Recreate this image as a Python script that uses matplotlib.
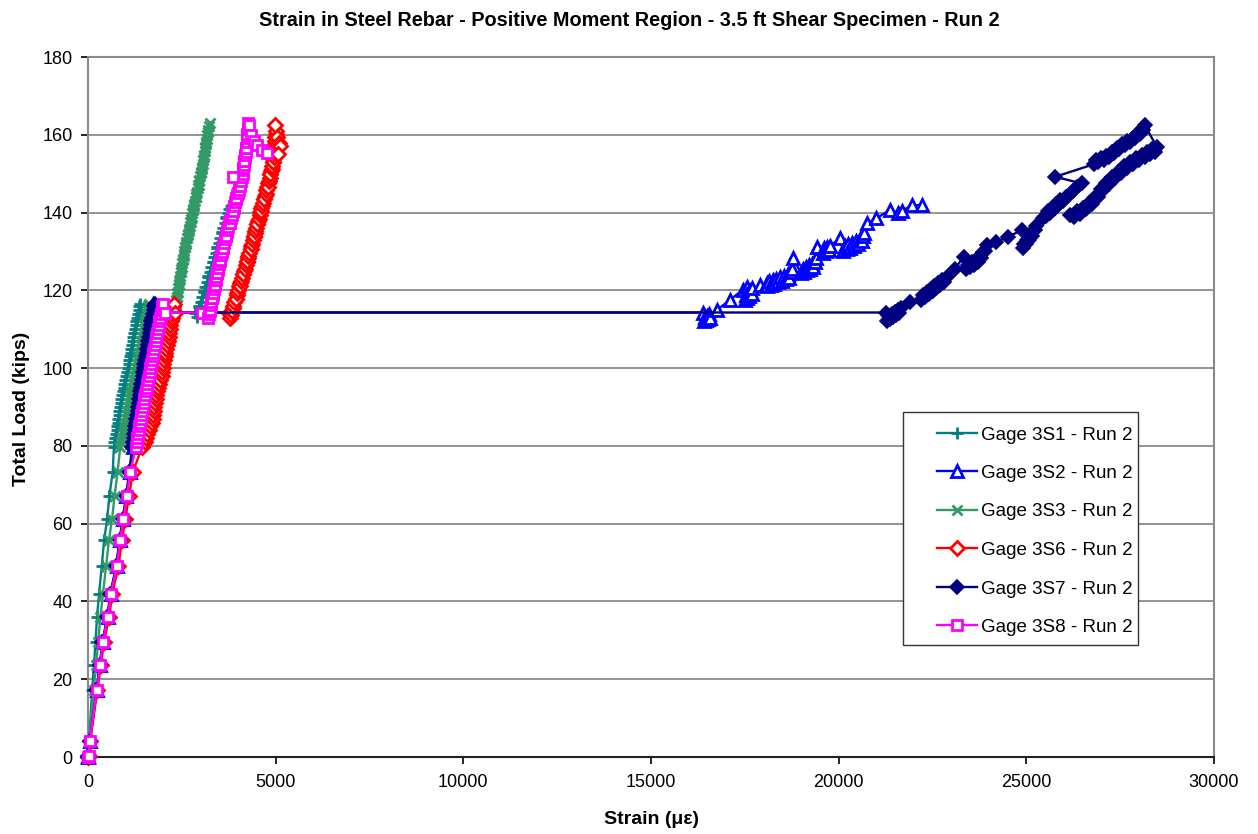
import matplotlib
matplotlib.use("Agg")
import matplotlib.pyplot as plt
from matplotlib.patches import Rectangle

plt.rcParams['font.family'] = ['Liberation Sans', 'DejaVu Sans']

TITLE = "Strain in Steel Rebar - Positive Moment Region - 3.5 ft Shear Specimen - Run 2"
X_LABEL = "Strain (\u03bc\u03b5)"
Y_LABEL = "Total Load (kips)"
X_TICKS = [0, 5000, 10000, 15000, 20000, 25000, 30000]
Y_TICKS = [0, 20, 40, 60, 80, 100, 120, 140, 160, 180]

# first loading up to first yield, common load record (kips)
LOAD_P1 = [0, 0.3, 4.2, 17.2, 23.7, 29.6, 36.0, 42.0, 49.0, 55.8, 61.2, 67.2, 73.4, 79.8,
           81, 82, 83, 84, 85, 86, 87, 88, 89, 90, 91, 92, 93, 94, 95, 96, 97, 98, 99, 100,
           101, 102, 103, 104, 105, 106, 107, 108, 109, 110, 111, 112, 113, 114, 115, 116,
           116.5, 114.3]

# strains during first loading (microstrain)
S1_P1 = [0, 5, 30, 110, 160, 200, 240, 295, 365, 430, 510, 570, 660, 690,
         705, 720, 740, 760, 775, 790, 805, 820, 835, 850, 870, 890, 910, 930, 950, 970, 990,
         1010, 1035, 1060, 1080, 1100, 1120, 1140, 1155, 1170, 1190, 1210, 1230, 1250, 1270,
         1290, 1310, 1330, 1350, 1370, 1385, 1420]
S2_P1 = [0, 10, 50, 230, 320, 390, 520, 600, 760, 845, 935, 1025, 1110, 1200,
         1205, 1220, 1235, 1250, 1265, 1280, 1295, 1310, 1325, 1340, 1355, 1370, 1385, 1400,
         1415, 1430, 1445, 1460, 1475, 1490, 1505, 1520, 1535, 1550, 1565, 1580, 1595, 1610,
         1625, 1640, 1655, 1670, 1685, 1700, 1715, 1730, 1745, 1790]
S3_P1 = [0, 5, 35, 150, 220, 270, 330, 400, 480, 560, 640, 710, 790, 860,
         890, 910, 930, 950, 970, 990, 1010, 1030, 1050, 1070, 1090, 1110, 1130, 1150, 1170,
         1190, 1210, 1230, 1250, 1275, 1300, 1320, 1340, 1360, 1380, 1400, 1420, 1440, 1460,
         1480, 1500, 1520, 1540, 1560, 1580, 1600, 1615, 1660]
S6_P1 = [0, 20, 60, 250, 345, 425, 565, 645, 810, 905, 995, 1095, 1195, 1450,
         1530, 1545, 1570, 1620, 1660, 1700, 1720, 1740, 1755, 1770, 1785, 1800, 1815, 1830,
         1855, 1880, 1920, 1960, 1975, 1990, 2005, 2020, 2040, 2060, 2080, 2100, 2125, 2150,
         2165, 2180, 2195, 2210, 2225, 2240, 2255, 2270, 2280, 2320]
S7_P1 = [0, 10, 50, 225, 315, 385, 515, 595, 750, 840, 925, 1015, 1100, 1180,
         1200, 1215, 1230, 1245, 1260, 1275, 1290, 1305, 1320, 1335, 1350, 1365, 1380, 1395,
         1410, 1425, 1440, 1455, 1470, 1485, 1500, 1520, 1540, 1560, 1575, 1590, 1605, 1620,
         1640, 1660, 1675, 1690, 1710, 1730, 1750, 1770, 1790, 1830]
S8_P1 = [0, 15, 50, 235, 325, 395, 530, 610, 770, 855, 945, 1035, 1125, 1280,
         1300, 1315, 1330, 1350, 1365, 1380, 1400, 1420, 1440, 1460, 1480, 1500, 1520, 1540,
         1560, 1580, 1600, 1620, 1640, 1660, 1680, 1700, 1720, 1740, 1760, 1780, 1800, 1820,
         1840, 1860, 1880, 1900, 1920, 1940, 1960, 1980, 2000, 2050]

# hold at 114.3 kips and reloading: (strain, load) readings
S1_P2 = [(2850, 114.3), (2900, 113.2), (2930, 114.5), (2965, 115.8), (3000, 117.1), (2970, 116.0),
         (3040, 118.3), (3080, 119.6), (3120, 120.9), (3090, 119.8), (3160, 122.1), (3200, 123.4),
         (3240, 124.7), (3210, 123.6), (3280, 125.9), (3320, 127.2), (3360, 128.5), (3330, 127.4),
         (3400, 129.7), (3440, 131.0), (3480, 132.3), (3450, 131.2), (3520, 133.5), (3560, 134.8),
         (3600, 136.1), (3570, 135.0), (3640, 137.3), (3680, 138.6), (3720, 139.9), (3690, 138.8),
         (3760, 140.9), (3800, 141.6), (3830, 142.0)]
S2_P2 = [(16380, 114.3),
         (16400, 112.0), (16430, 113.2), (16460, 112.3), (16490, 113.5), (16520, 112.6),
         (16550, 113.8), (16580, 113.0),
         (16750, 114.9), (17100, 117.5), (17450, 120.2), (17550, 120.9),
         (17500, 117.6), (17530, 118.9), (17560, 118.1), (17590, 119.4), (17620, 118.6),
         (17650, 119.9), (17680, 119.1), (17700, 120.6),
         (17900, 121.3), (18080, 121.8),
         (18090, 121.0), (18140, 122.3), (18190, 121.3), (18240, 122.6), (18290, 121.7),
         (18340, 123.0), (18390, 122.1), (18440, 123.4), (18490, 122.5), (18540, 123.8),
         (18590, 122.9), (18640, 124.2), (18690, 123.3), (18740, 124.6), (18760, 125.5),
         (18790, 128.2),
         (19000, 124.4), (19040, 125.6), (19080, 124.8), (19120, 126.0), (19160, 125.2),
         (19200, 126.4), (19240, 125.6), (19280, 126.9), (19320, 126.1), (19360, 127.4),
         (19390, 128.2),
         (19410, 131.2),
         (19580, 129.6), (19620, 130.8), (19660, 130.0), (19700, 131.2), (19740, 130.4),
         (19780, 131.5),
         (20040, 133.4),
         (20110, 130.2), (20160, 131.4), (20210, 130.6), (20260, 131.8), (20310, 131.0),
         (20360, 132.3), (20410, 131.5), (20460, 132.8), (20510, 132.0), (20560, 133.3),
         (20610, 132.6), (20650, 134.0), (20680, 134.8),
         (20750, 137.2), (21000, 138.5), (21370, 140.7), (21590, 139.8), (21700, 140.5),
         (21950, 141.9), (22210, 141.9)]
S3_P2 = [(2250, 114.3),
         (2280, 113.3), (2295, 114.2), (2310, 115.1), (2325, 116.0), (2312, 115.2),
         (2335, 116.5), (2350, 117.4), (2365, 118.3), (2380, 119.2), (2367, 118.4),
         (2390, 119.7), (2405, 120.6), (2420, 121.5), (2435, 122.4), (2422, 121.6),
         (2445, 122.9), (2460, 123.8), (2475, 124.7), (2490, 125.6), (2477, 124.8),
         (2500, 126.1), (2515, 127.0), (2530, 127.9), (2545, 128.8), (2532, 128.0),
         (2555, 129.3), (2570, 130.2), (2590, 131.1), (2610, 132.0), (2595, 131.2),
         (2620, 132.5), (2640, 133.4), (2660, 134.3), (2680, 135.2), (2665, 134.4),
         (2690, 135.7), (2710, 136.6), (2730, 137.5), (2750, 138.4), (2735, 137.6),
         (2760, 138.9), (2780, 139.8), (2800, 140.7), (2820, 141.6), (2805, 140.8),
         (2830, 142.1), (2850, 143.0), (2870, 143.9), (2890, 144.8), (2875, 144.0),
         (2900, 145.3), (2920, 146.2), (2940, 147.1), (2960, 148.0), (2945, 147.2),
         (2970, 148.5), (2990, 149.4), (3010, 150.3), (3030, 151.2), (3015, 150.4),
         (3040, 151.7), (3055, 152.6), (3070, 153.5), (3085, 154.4), (3072, 153.6),
         (3095, 154.9), (3110, 155.8), (3125, 156.7), (3140, 157.6), (3127, 156.8),
         (3150, 158.1), (3165, 159.0), (3180, 159.9), (3195, 160.8), (3182, 160.0),
         (3205, 161.3), (3220, 162.2), (3250, 163.0)]
S6_P2 = [(3750, 114.3),
         (3780, 112.8), (3810, 113.7), (3835, 114.6), (3860, 115.5), (3840, 114.7),
         (3875, 116.0), (3900, 116.9), (3930, 117.8), (3960, 118.7), (3940, 117.9),
         (3975, 119.2), (4000, 120.1), (4030, 121.0), (4060, 121.9), (4040, 121.1),
         (4075, 122.4), (4100, 123.3), (4130, 124.2), (4160, 125.1), (4140, 124.3),
         (4175, 125.6), (4200, 126.5), (4230, 127.4), (4260, 128.3), (4240, 127.5),
         (4275, 128.8), (4300, 129.7), (4330, 130.6), (4355, 131.5), (4335, 130.7),
         (4370, 132.0), (4395, 132.9), (4420, 133.8), (4445, 134.7), (4425, 133.9),
         (4455, 135.2), (4480, 136.1), (4505, 137.0), (4530, 137.9), (4510, 137.1),
         (4545, 138.4), (4570, 139.3), (4595, 140.2), (4620, 141.1), (4600, 140.3),
         (4635, 141.6), (4660, 142.5), (4690, 143.4), (4715, 144.3), (4695, 143.5),
         (4730, 144.8), (4755, 145.7), (4780, 146.6), (4805, 147.5), (4785, 146.7),
         (4815, 148.0), (4840, 148.9), (4860, 149.8), (4880, 150.7), (4860, 149.9),
         (4890, 151.2), (4905, 152.1), (4920, 153.0), (4935, 153.9), (4920, 153.1),
         (4945, 154.4), (4955, 155.3), (4965, 156.2), (4975, 157.1), (4960, 156.3),
         (4985, 157.6), (4995, 158.5), (5000, 159.4), (5010, 160.3), (4995, 159.5),
         (5005, 161.0), (4980, 162.5), (5040, 159.5), (5090, 157.8), (5120, 157.0), (5060, 155.0)]
S7_P2 = [(21250, 114.3),
         (21300, 112.2), (21340, 113.4), (21380, 112.7), (21420, 113.9), (21460, 113.2),
         (21500, 114.4), (21540, 113.7), (21580, 114.9), (21620, 114.3), (21660, 115.5),
         (21900, 117.0),
         (22200, 117.6), (22250, 118.9), (22300, 118.3), (22350, 119.6), (22400, 119.0),
         (22450, 120.3), (22500, 119.8), (22550, 121.1), (22600, 120.6), (22650, 121.9),
         (22700, 121.4), (22750, 122.6), (22800, 122.2), (22880, 123.5),
         (23100, 125.5), (23330, 128.7),
         (23400, 125.4), (23450, 126.6), (23500, 126.0), (23550, 127.2), (23600, 126.6),
         (23650, 127.8), (23700, 127.3), (23750, 128.6), (23800, 128.4), (23850, 129.8),
         (23900, 130.0), (23950, 131.7),
         (24200, 132.5), (24520, 133.8), (24880, 135.5),
         (24910, 130.8), (24950, 132.0), (24990, 131.8), (25030, 133.0), (25070, 132.9),
         (25110, 134.1), (25150, 134.0), (25190, 135.3), (25230, 135.4), (25260, 136.6),
         (25450, 138.5), (25530, 139.0), (25580, 140.3), (25630, 140.0), (25680, 141.3),
         (25730, 141.0), (25780, 142.3), (25840, 142.0), (25900, 143.2), (25980, 142.9),
         (26070, 143.9),
         (26150, 144.6), (26250, 145.6), (26360, 146.6), (26470, 147.5),
         (25770, 149.2),
         (26790, 152.4), (26850, 153.4), (26920, 152.9), (26990, 154.0), (27060, 153.5),
         (27130, 154.6), (27200, 154.3), (27270, 155.5), (27340, 155.3), (27410, 156.6),
         (27480, 156.4), (27550, 157.6), (27620, 157.4), (27690, 158.5), (27760, 158.2),
         (27830, 159.3), (27900, 159.1), (27960, 160.2), (28020, 160.3), (28080, 161.5),
         (28120, 161.3), (28150, 162.5),
         (28480, 156.9), (28420, 155.6), (28360, 156.4), (28290, 155.0), (28220, 155.7),
         (28150, 154.2), (28080, 154.9), (28000, 153.4), (27920, 154.1), (27840, 152.6),
         (27760, 153.1), (27680, 151.4), (27600, 151.9), (27520, 150.1), (27440, 150.5),
         (27360, 148.8), (27280, 149.2), (27200, 147.3), (27120, 147.5), (27050, 145.8),
         (26980, 146.0), (26900, 144.0), (26820, 144.0), (26740, 142.1), (26660, 142.4),
         (26580, 140.8), (26500, 141.3), (26420, 139.7), (26340, 140.3), (26260, 138.9),
         (26170, 139.4)]
S8_P2 = [(3050, 114.3),
         (3200, 113.0), (3220, 113.9), (3240, 114.8), (3255, 115.7), (3240, 114.9),
         (3265, 116.2), (3285, 117.1), (3300, 118.0), (3320, 118.9), (3300, 118.1),
         (3330, 119.4), (3350, 120.3), (3370, 121.2), (3395, 122.1), (3375, 121.3),
         (3400, 122.6), (3420, 123.5), (3440, 124.4), (3460, 125.3), (3440, 124.5),
         (3470, 125.8), (3490, 126.7), (3510, 127.6), (3530, 128.5), (3510, 127.7),
         (3545, 129.0), (3565, 129.9), (3590, 130.8), (3610, 131.7), (3590, 130.9),
         (3625, 132.2), (3650, 133.1), (3675, 134.0), (3700, 134.9), (3680, 134.1),
         (3715, 135.4), (3740, 136.3), (3765, 137.2), (3790, 138.1), (3770, 137.3),
         (3805, 138.6), (3830, 139.5), (3855, 140.4), (3880, 141.3), (3860, 140.5),
         (3895, 141.8), (3920, 142.7), (3945, 143.6), (3970, 144.5), (3950, 143.7),
         (3985, 145.0), (4010, 145.9), (4035, 146.8), (4060, 147.7), (4040, 146.9),
         (4075, 148.2), (4100, 149.1), (4120, 150.0), (4140, 150.9), (3870, 149.2),
         (4130, 151.4), (4150, 152.3), (4165, 153.2), (4180, 154.1), (4165, 153.3),
         (4190, 154.8), (4205, 155.7), (4215, 156.6), (4225, 157.5), (4210, 156.7),
         (4230, 158.2), (4240, 159.1), (4250, 160.0), (4260, 160.9), (4245, 160.1),
         (4260, 161.6), (4270, 163.0), (4300, 162.5), (4350, 160.0), (4420, 158.5),
         (4490, 157.4), (4640, 156.0), (4780, 155.2)]

SERIES = [
    ("Gage 3S1 - Run 2", S1_P1, S1_P2, dict(color="#008080", marker="+", ms=9, mew=2.0)),
    ("Gage 3S2 - Run 2", S2_P1, S2_P2, dict(color="#0000FF", marker="^", ms=8.5, mew=2.0, mfc="white")),
    ("Gage 3S3 - Run 2", S3_P1, S3_P2, dict(color="#339966", marker="x", ms=7.5, mew=2.0)),
    ("Gage 3S6 - Run 2", S6_P1, S6_P2, dict(color="#FF0000", marker="D", ms=7, mew=2.0, mfc="white")),
    ("Gage 3S7 - Run 2", S7_P1, S7_P2, dict(color="#000080", marker="D", ms=7, mew=1.2, mfc="#000080")),
    ("Gage 3S8 - Run 2", S8_P1, S8_P2, dict(color="#FF00FF", marker="s", ms=7.5, mew=2.0, mfc="white")),
]

W, H = 1258, 834
fig = plt.figure(figsize=(W / 100, H / 100), dpi=100)
ax = fig.add_axes([88 / W, 77 / H, (1214 - 88) / W, (757 - 57) / H])

for label, p1, p2, st in SERIES:
    xs = list(p1) + [p[0] for p in p2]
    ys = list(LOAD_P1) + [p[1] for p in p2]
    ax.plot(xs, ys, lw=1.7, label=label, clip_on=False, zorder=3, **st)

ax.set_xlim(0, 30000)
ax.set_ylim(0, 180)
ax.set_xticks(X_TICKS)
ax.set_yticks(Y_TICKS)
ax.set_xticklabels([str(v) for v in X_TICKS])
ax.set_yticklabels([str(v) for v in Y_TICKS])
ax.tick_params(axis="both", labelsize=13, colors="#000000", length=5, width=1.2,
               direction="out")
ax.tick_params(axis="x", pad=7)
ax.tick_params(axis="y", pad=6)
ax.yaxis.grid(True, color="#8a8a8a", lw=1.3)
ax.set_axisbelow(True)
for side in ("top", "right", "left"):
    ax.spines[side].set_color("#8a8a8a")
    ax.spines[side].set_linewidth(1.5)
ax.spines["bottom"].set_color("#222222")
ax.spines["bottom"].set_linewidth(1.5)

fig.text(0.5004, 1 - 21 / H, TITLE, ha="center", va="center", fontsize=14.3, fontweight="bold")
fig.text(651 / W, 1 - 820 / H, X_LABEL, ha="center", va="center", fontsize=14, fontweight="bold")
fig.text(22 / W, 1 - 409 / H, Y_LABEL, ha="center", va="center", rotation=90,
         fontsize=14, fontweight="bold")

# legend box
box = Rectangle((903 / W, 1 - 645 / H), (1138 - 903) / W, (645 - 412) / H,
                transform=fig.transFigure, facecolor="white", edgecolor="#333333",
                lw=1.0, zorder=4.5, clip_on=False)
ax.add_artist(box)
leg = ax.legend(loc="upper left", bbox_to_anchor=(928 / W, 1 - 417 / H),
                bbox_transform=fig.transFigure, frameon=False, borderpad=0,
                handlelength=2.1, handletextpad=0.25, labelspacing=1.14,
                numpoints=1, fontsize=13.5)
leg.set_zorder(5)

fig.savefig("out.png", dpi=100)
